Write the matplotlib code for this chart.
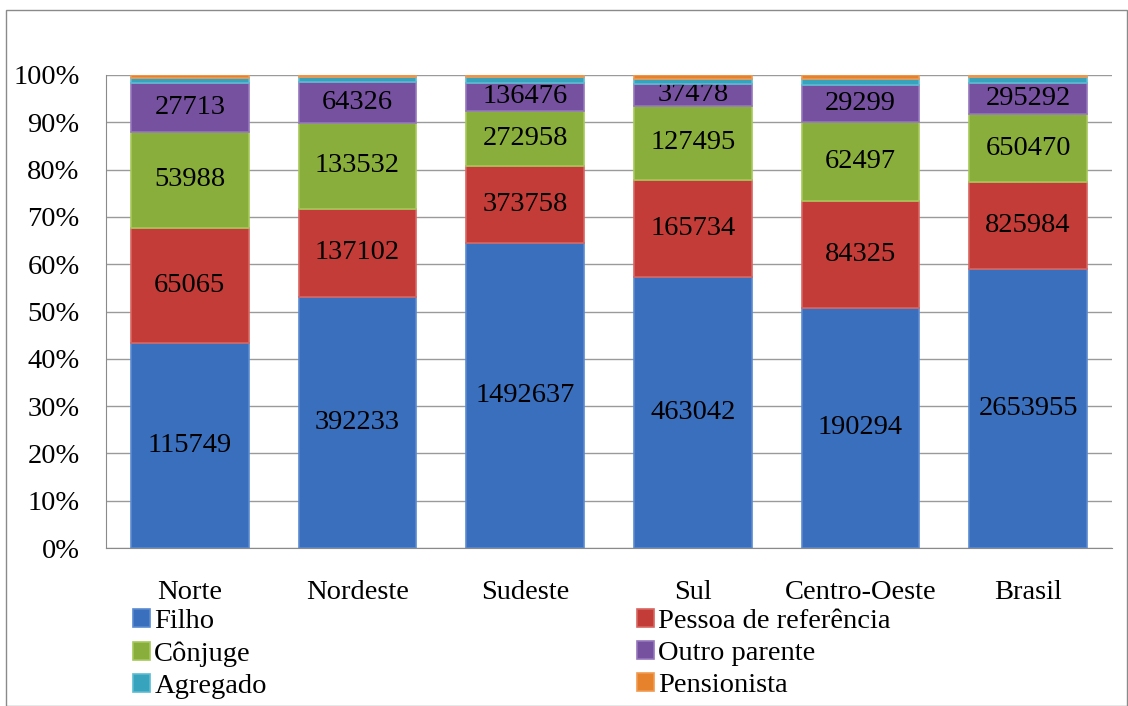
import matplotlib
matplotlib.use("Agg")
import matplotlib.pyplot as plt
import numpy as np

regions = ["Norte", "Nordeste", "Sudeste", "Sul", "Centro-Oeste", "Brasil"]
series_names = ["Filho", "Pessoa de referência", "Cônjuge", "Outro parente", "Agregado", "Pensionista"]
filho = [115749, 392233, 1492637, 463042, 190294, 2653955]
pessoa_ref = [65065, 137102, 373758, 165734, 84325, 825984]
conjuge = [53988, 133532, 272958, 127495, 62497, 650470]
outro_parente = [27713, 64326, 136476, 37478, 29299, 295292]
agregado = [3000, 8000, 30000, 9000, 5000, 55000]
pensionista = [1500, 2500, 8000, 6000, 3000, 21000]
labeled = [True, True, True, True, False, False]

colors = ["#3A6FBE", "#C33C38", "#8AAE3B", "#7651A0", "#38A3BD", "#E6822C"]
edge_colors = ["#5A8AD0", "#D86560", "#A5C85A", "#9577BC", "#5ABCD2", "#F09A50"]

plt.rcParams['font.family'] = ['Liberation Serif', 'DejaVu Serif']
FS = 20.5

fig = plt.figure(figsize=(11.28, 7.06), dpi=100)
ax = fig.add_axes([106/1128, 1-548/706, 1006/1128, (548-75)/706])

data = np.array([filho, pessoa_ref, conjuge, outro_parente, agregado, pensionista], dtype=float)
totals = data.sum(axis=0)
pct = data / totals * 100
x = np.arange(len(regions))
bottom = np.zeros(len(regions))
handles = []
for i in range(len(series_names)):
    bars = ax.bar(x, pct[i], 0.70, bottom=bottom, color=colors[i], edgecolor=edge_colors[i],
                  linewidth=1.2, zorder=3, label=series_names[i])
    handles.append(bars)
    if labeled[i]:
        ax.bar_label(bars, labels=[str(int(v)) for v in data[i]], label_type='center',
                     fontsize=FS, color='black')
    bottom += pct[i]

ax.set_xlim(-0.5, 5.5)
ax.set_ylim(0, 100)
ax.set_yticks(np.arange(0, 101, 10))
ax.set_yticklabels([f"{v}%" for v in range(0, 101, 10)], fontsize=FS)
ax.set_xticks(x)
ax.set_xticklabels(regions, fontsize=FS)
ax.tick_params(axis='x', length=0, pad=23)
ax.tick_params(axis='y', length=0, pad=19)
ax.yaxis.grid(True, color='#9a9a9a', linewidth=1, zorder=0)
for s in ['top', 'right']:
    ax.spines[s].set_visible(False)
for s in ['left', 'bottom']:
    ax.spines[s].set_color('#8a8a8a')

order = [0, 2, 4, 1, 3, 5]
leg = fig.legend(handles=[handles[k] for k in order], labels=[series_names[k] for k in order],
                 loc='upper left', bbox_to_anchor=(133/1128, 1-609/706), ncol=2, frameon=False,
                 fontsize=FS, handlelength=0.6, handleheight=0.6, handletextpad=0.15,
                 labelspacing=0.25, columnspacing=13.0, borderaxespad=0, borderpad=0)

border = plt.Rectangle((6/1128, 0.5/706), 1 - 7/1128, 1 - 10/706, transform=fig.transFigure,
                       fill=False, edgecolor='#8a8a8a', linewidth=1)
fig.patches.append(border)

fig.savefig("out.png", dpi=100)
